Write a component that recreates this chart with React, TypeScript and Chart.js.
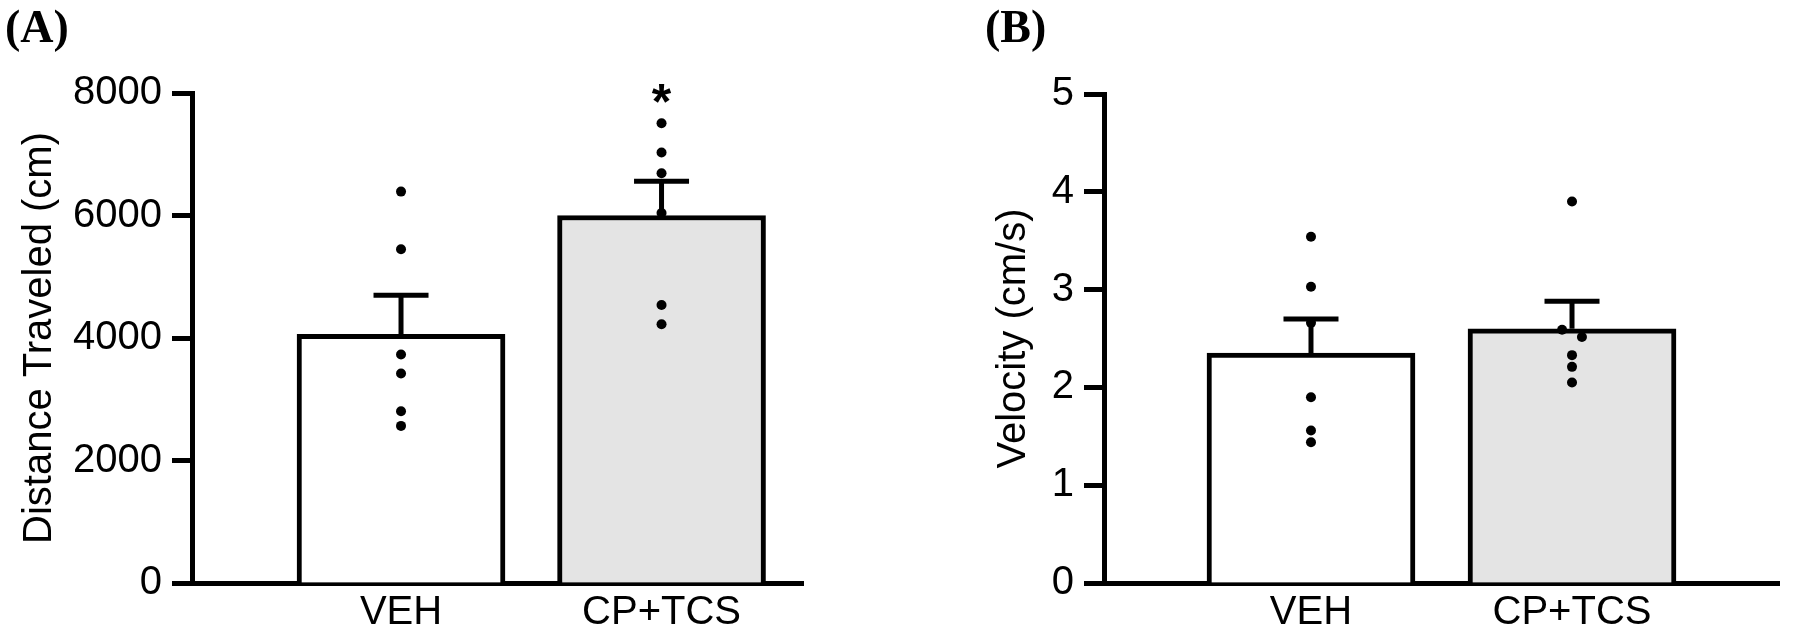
import React, { useEffect, useRef } from "react";
import { Chart, registerables } from "chart.js";

Chart.register(...registerables);

// ---------- data ----------
const categories = ["VEH", "CP+TCS"];

const distanceTicks = [0, 2000, 4000, 6000, 8000];
const distanceMeans = [4060, 6000];
const distanceSemTops = [4700, 6560];
const distanceVEH = [6390, 5450, 3730, 3420, 2805, 2565];
const distanceCPTCS = [7505, 7030, 6690, 6040, 4540, 4225];
const distanceSignificance = ["", "*"];

const velocityTicks = [0, 1, 2, 3, 4, 5];
const velocityMeans = [2.35, 2.6];
const velocitySemTops = [2.7, 2.88];
const velocityVEH = [3.54, 3.03, 2.66, 1.9, 1.56, 1.44];
const velocityCPTCS = [3.9, 2.59, 2.515, 2.33, 2.21, 2.05];
const velocityCPTCSJitter = [0, -0.038, 0.038, 0, 0, 0];
const velocitySignificance = ["", ""];

const SANS = '"Liberation Sans", Arial, Helvetica, sans-serif';
const SERIF = '"Liberation Serif", "Times New Roman", serif';

type PanelSpec = {
  letter: string;
  letterX: number;
  title: string;
  ticks: number[];
  means: number[];
  semTops: number[];
  groups: number[][];
  jitter: number[][];
  significance: string[];
  padLeft: number;
  yWidth: number;
  padRight: number;
  padTop: number;
  xMin: number;
  xMax: number;
};

function buildConfig(p: PanelSpec): any {
  const points: { x: number; y: number }[] = [];
  p.groups.forEach((g, gi) => {
    g.forEach((v, vi) => {
      points.push({ x: gi + 1 + (p.jitter[gi][vi] || 0), y: v });
    });
  });

  const overlay = {
    id: "overlay" + p.letter,
    afterDatasetsDraw(chart: any) {
      const { ctx, scales } = chart;
      const x = scales.x;
      const y = scales.y;
      ctx.save();
      ctx.strokeStyle = "#000";
      ctx.lineWidth = 5;
      ctx.lineCap = "butt";
      p.means.forEach((m, i) => {
        const px = x.getPixelForValue(i + 1);
        const py0 = y.getPixelForValue(m);
        const py1 = y.getPixelForValue(p.semTops[i]);
        ctx.beginPath();
        ctx.moveTo(px, py0);
        ctx.lineTo(px, py1);
        ctx.stroke();
        ctx.beginPath();
        ctx.moveTo(px - 27.5, py1);
        ctx.lineTo(px + 27.5, py1);
        ctx.stroke();
      });
      // significance marks above highest dot
      ctx.fillStyle = "#000";
      ctx.textAlign = "center";
      ctx.textBaseline = "alphabetic";
      ctx.font = "bold 50px " + SANS;
      p.significance.forEach((s, i) => {
        if (!s) return;
        const top = Math.max(...p.groups[i]);
        const px = x.getPixelForValue(i + 1);
        const py = y.getPixelForValue(top) - 33 + 29;
        ctx.fillText(s, px, py);
      });
      ctx.restore();
    },
    afterDraw(chart: any) {
      const { ctx } = chart;
      ctx.save();
      ctx.fillStyle = "#000";
      ctx.textAlign = "left";
      ctx.textBaseline = "alphabetic";
      ctx.font = "bold 46px " + SERIF;
      ctx.fillText(p.letter, p.letterX, 42);
      ctx.restore();
    },
  };

  const tickFont = { family: SANS, size: 40, weight: "normal" as const };

  return {
    type: "bar",
    data: {
      datasets: [
        {
          type: "scatter",
          data: points,
          pointRadius: 5,
          pointHoverRadius: 5,
          pointBackgroundColor: "#000",
          pointBorderWidth: 0,
          backgroundColor: "#000",
          borderColor: "#000",
          order: 1,
        },
        {
          type: "bar",
          data: p.means.map((m, i) => ({ x: i + 1, y: m })),
          backgroundColor: ["#ffffff", "#e4e4e4"],
          borderColor: "#000",
          borderWidth: 5,
          borderSkipped: "bottom",
          barThickness: 208,
          order: 2,
        },
      ],
    },
    options: {
      animation: false,
      responsive: false,
      devicePixelRatio: 1,
      events: [],
      layout: {
        padding: { left: p.padLeft, right: p.padRight, top: p.padTop, bottom: 0 },
      },
      plugins: {
        legend: { display: false },
        tooltip: { enabled: false },
      },
      scales: {
        x: {
          type: "linear",
          min: p.xMin,
          max: p.xMax,
          offset: false,
          grid: { display: false, drawTicks: false },
          border: { display: true, width: 5, color: "#000" },
          ticks: {
            color: "#000",
            font: tickFont,
            padding: 6,
            maxRotation: 0,
            autoSkip: false,
            callback: (_v: any, i: number) => categories[i] ?? "",
          },
          afterBuildTicks: (s: any) => {
            s.ticks = categories.map((_c, i) => ({ value: i + 1 }));
          },
          afterFit: (s: any) => {
            s.height = 58;
          },
        },
        y: {
          type: "linear",
          min: p.ticks[0],
          max: p.ticks[p.ticks.length - 1],
          grid: {
            display: true,
            drawOnChartArea: false,
            drawTicks: true,
            tickLength: 20,
            tickWidth: 5,
            tickColor: "#000",
            color: "#000",
          },
          border: { display: true, width: 5, color: "#000" },
          ticks: {
            color: "#000",
            font: tickFont,
            padding: 10,
            autoSkip: false,
            callback: (v: any) => String(v),
          },
          afterBuildTicks: (s: any) => {
            s.ticks = p.ticks.map((v) => ({ value: v }));
          },
          title: {
            display: true,
            text: p.title,
            color: "#000",
            font: { family: SANS, size: 40, weight: "normal" },
            padding: { top: 0, bottom: 0 },
          },
          afterFit: (s: any) => {
            s.width = p.yWidth;
          },
        },
      },
    },
    plugins: [overlay],
  };
}

const panelA: PanelSpec = {
  letter: "(A)",
  letterX: 5,
  title: "Distance Traveled (cm)",
  ticks: distanceTicks,
  means: distanceMeans,
  semTops: distanceSemTops,
  groups: [distanceVEH, distanceCPTCS],
  jitter: [[], []],
  significance: distanceSignificance,
  padLeft: 16,
  yWidth: 176,
  padRight: 97,
  padTop: 93,
  xMin: 0.1977,
  xMax: 2.543,
};

const panelB: PanelSpec = {
  letter: "(B)",
  letterX: 85,
  title: "Velocity (cm/s)",
  ticks: velocityTicks,
  means: velocityMeans,
  semTops: velocitySemTops,
  groups: [velocityVEH, velocityCPTCS],
  jitter: [[], velocityCPTCSJitter],
  significance: velocitySignificance,
  padLeft: 90,
  yWidth: 114,
  padRight: 21,
  padTop: 94,
  xMin: 0.207,
  xMax: 2.793,
};

export default function App() {
  const refA = useRef<HTMLCanvasElement | null>(null);
  const refB = useRef<HTMLCanvasElement | null>(null);

  useEffect(() => {
    const charts: Chart[] = [];
    if (refA.current) charts.push(new Chart(refA.current, buildConfig(panelA)));
    if (refB.current) charts.push(new Chart(refB.current, buildConfig(panelB)));
    return () => charts.forEach((c) => c.destroy());
  }, []);

  return (
    <div
      style={{
        position: "fixed",
        left: 0,
        top: 0,
        width: 1800,
        height: 641,
        background: "#fff",
        overflow: "hidden",
      }}
    >
      <canvas
        ref={refA}
        width={900}
        height={641}
        style={{ position: "absolute", left: 0, top: 0, width: 900, height: 641 }}
      />
      <canvas
        ref={refB}
        width={900}
        height={641}
        style={{ position: "absolute", left: 900, top: 0, width: 900, height: 641 }}
      />
    </div>
  );
}
